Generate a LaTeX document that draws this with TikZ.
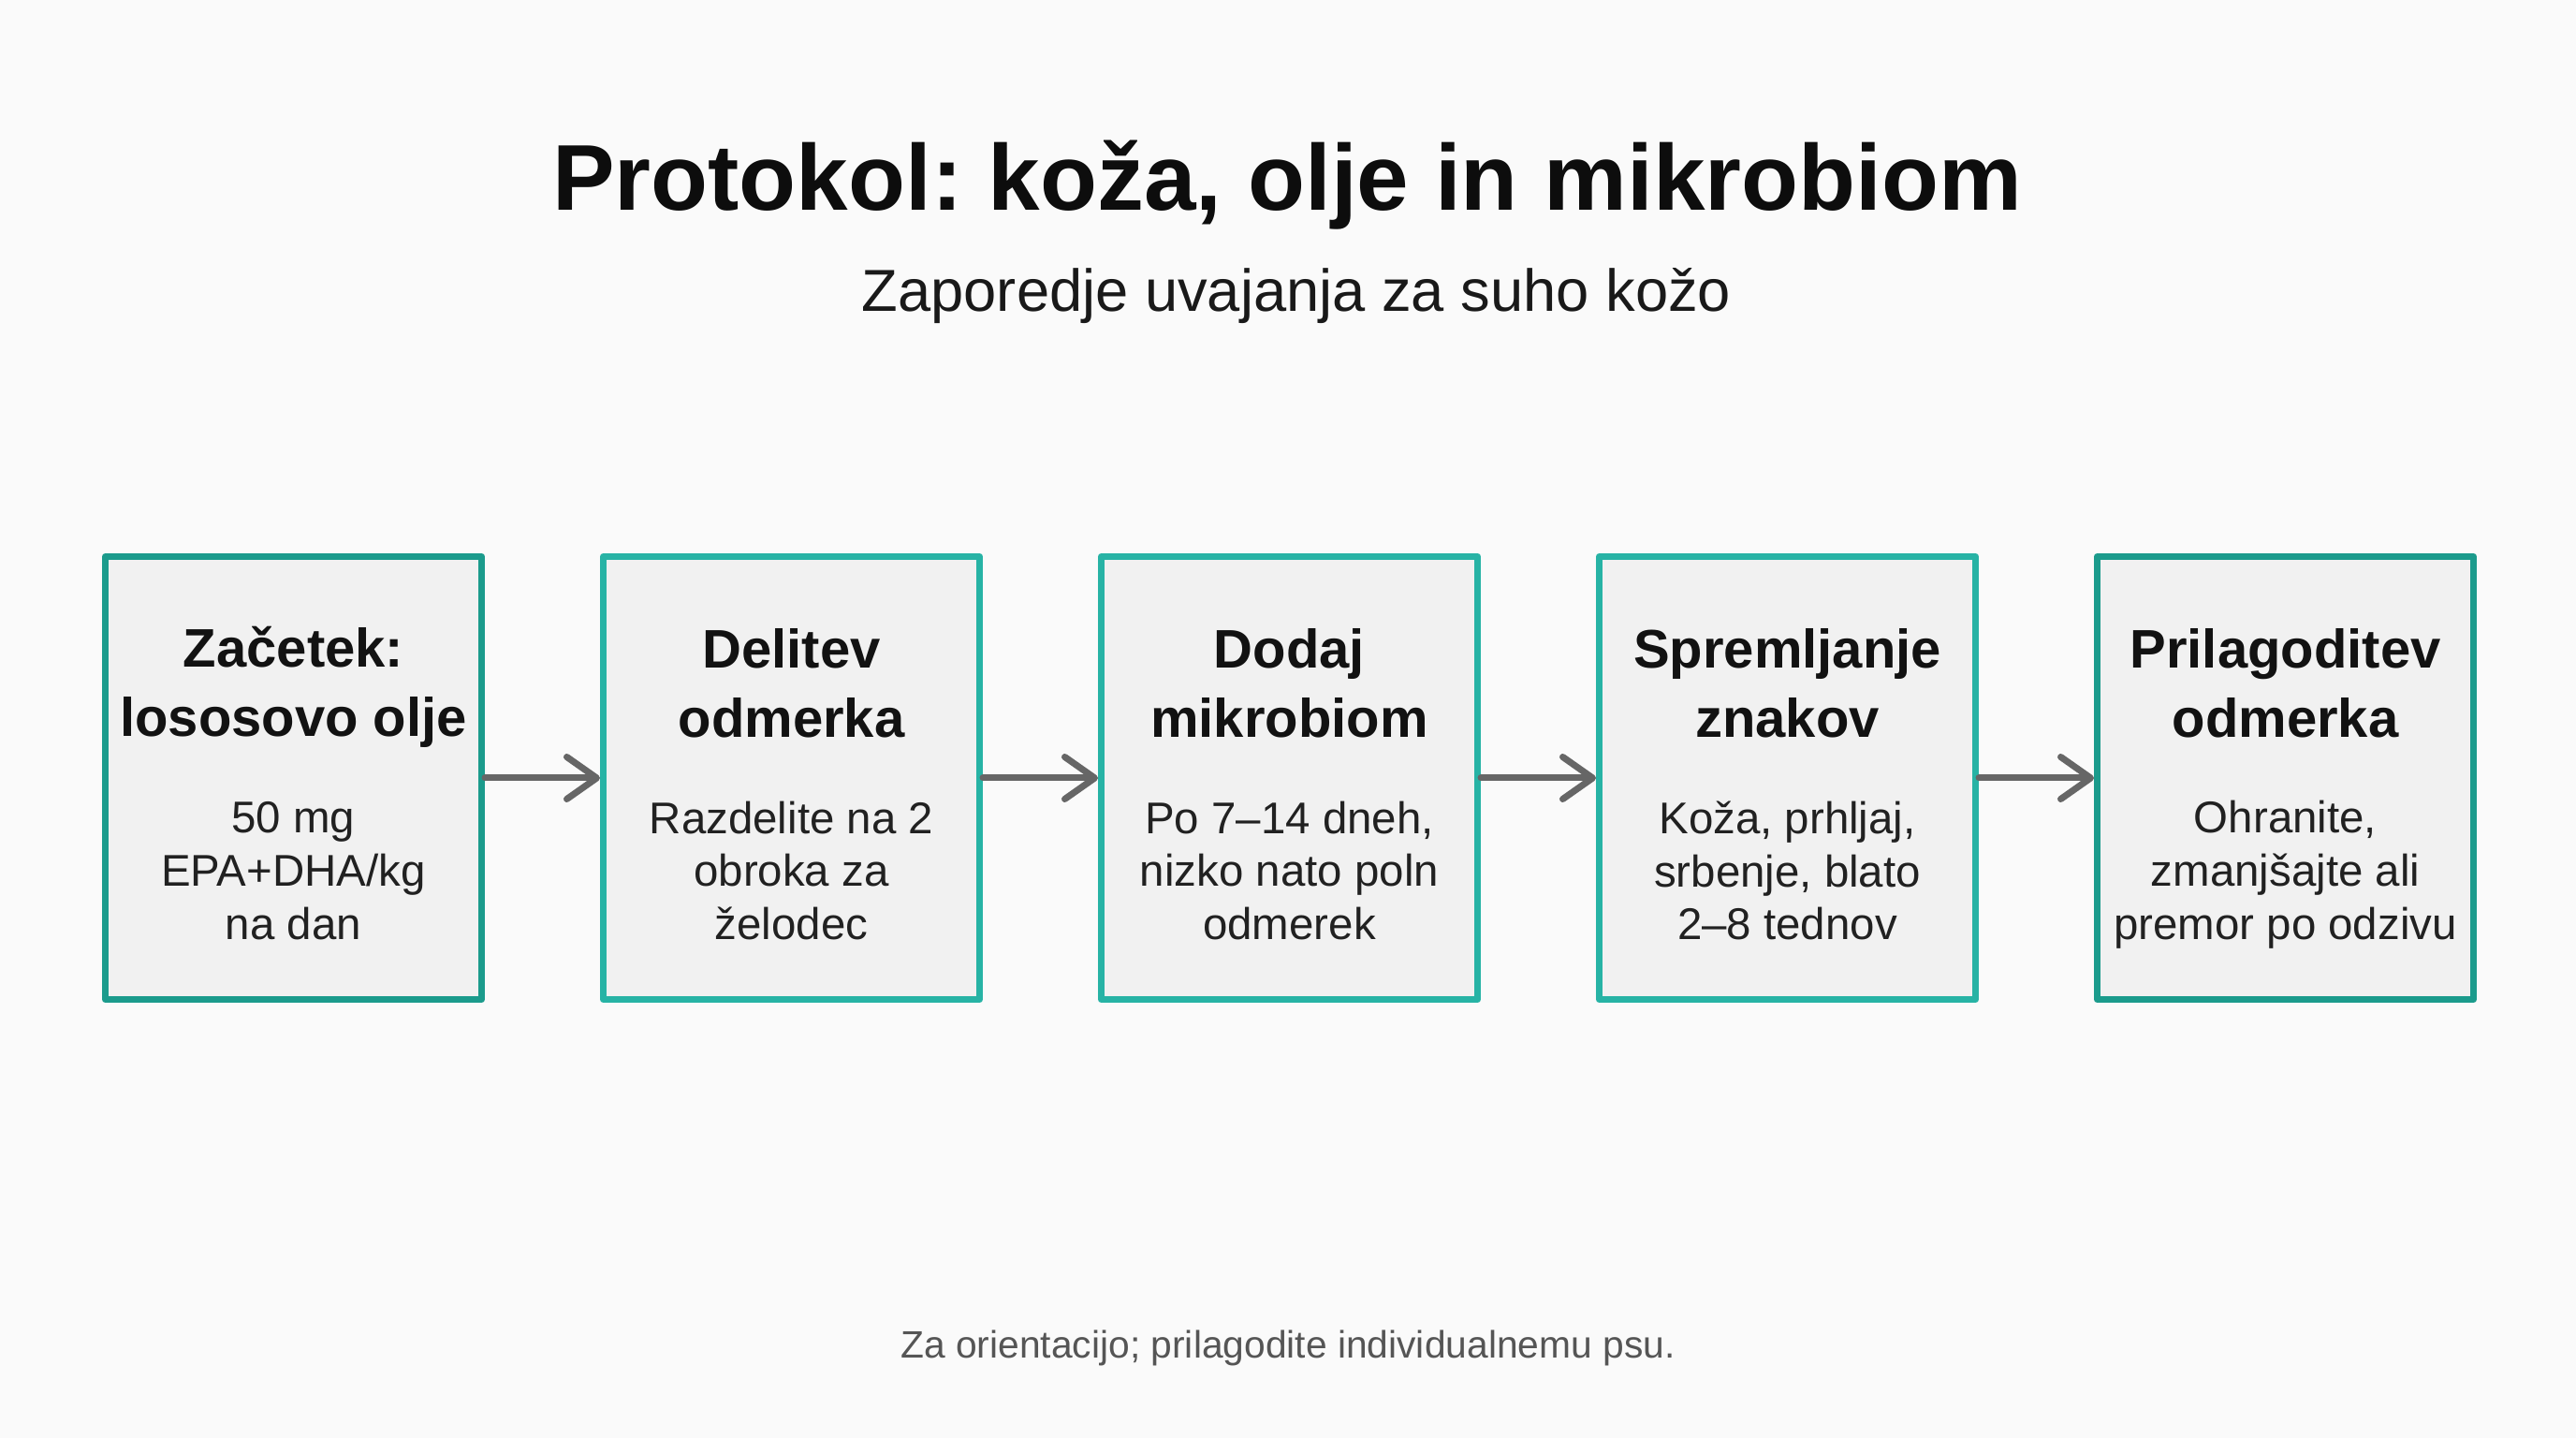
\documentclass[tikz,border=0pt]{standalone}
\usepackage{fontspec}
\setmainfont{Liberation Sans}
\usetikzlibrary{positioning,arrows.meta}
\frenchspacing
\definecolor{bgcol}{HTML}{FAFAFA}
\definecolor{boxfill}{HTML}{F1F1F1}
\definecolor{tealdark}{HTML}{1B9B8C}
\definecolor{teallight}{HTML}{27B3A5}
\definecolor{arrowgray}{HTML}{666666}
\definecolor{notegray}{HTML}{555555}
\begin{document}
\begin{tikzpicture}[line join=round,line cap=round,>={Straight Barb[length=0.32cm,width=0.45cm,round]}]
	\tikzset{stepbox/.style={draw=teallight,fill=boxfill,line width=0.07cm,minimum width=4.02cm,minimum height=4.73cm,inner sep=0pt},
		head/.style={font=\fontsize{16.5}{21}\selectfont\bfseries,text=black!93,align=center},
		body/.style={font=\fontsize{13.5}{16.2}\selectfont,text=black!87,align=center},
		flow/.style={->,draw=arrowgray,line width=0.07cm}}
	\fill[bgcol] (0,0) rectangle (27.52,15.36);
	\useasboundingbox (0,0) rectangle (27.52,15.36);
	% title
	\node[anchor=base,font=\fontsize{28.4}{34}\selectfont\bfseries,text=black!95] (title) at (13.75,13.11) {Protokol: koža, olje in mikrobiom};
	\node[anchor=base,font=\fontsize{18}{22}\selectfont,text=black!90] (sub) at (13.85,12.03) {Zaporedje uvajanja za suho kožo};
	% steps
	\node[stepbox,draw=tealdark] (s1) at (3.135,7.05) {};
	\node[stepbox,right=1.23cm of s1] (s2) {};
	\node[stepbox,right=1.23cm of s2] (s3) {};
	\node[stepbox,right=1.23cm of s3] (s4) {};
	\node[stepbox,draw=tealdark,right=1.23cm of s4] (s5) {};
	\node[head] (h1) at ([yshift=0.97cm]s1.center) {Začetek:\\lososovo olje};
	\node[body] (b1) at ([yshift=-0.99cm]s1.center) {50 mg\\EPA+DHA/kg\\na dan};
	\node[head] (h2) at ([yshift=1.01cm]s2.center) {Delitev\\odmerka};
	\node[body] (b2) at ([yshift=-0.99cm]s2.center) {Razdelite na 2\\obroka za\\želodec};
	\node[head] (h3) at ([yshift=1.01cm]s3.center) {Dodaj\\mikrobiom};
	\node[body] (b3) at ([yshift=-0.99cm]s3.center) {Po 7–14 dneh,\\nizko nato poln\\odmerek};
	\node[head] (h4) at ([yshift=1.01cm]s4.center) {Spremljanje\\znakov};
	\node[body] (b4) at ([yshift=-0.99cm]s4.center) {Koža, prhljaj,\\srbenje, blato\\2–8 tednov};
	\node[head] (h5) at ([yshift=1.01cm]s5.center) {Prilagoditev\\odmerka};
	\node[body] (b5) at ([yshift=-1.03cm]s5.center) {Ohranite,\\zmanjšajte ali\\premor po odzivu};
	\foreach \a/\b in {s1/s2,s2/s3,s3/s4,s4/s5}
	\draw[flow] (\a) -- (\b);
	% note
	\node[anchor=base,font=\fontsize{11.6}{14}\selectfont,text=notegray] (note) at (13.76,0.86) {Za orientacijo; prilagodite individualnemu psu.};
\end{tikzpicture}
\end{document}
